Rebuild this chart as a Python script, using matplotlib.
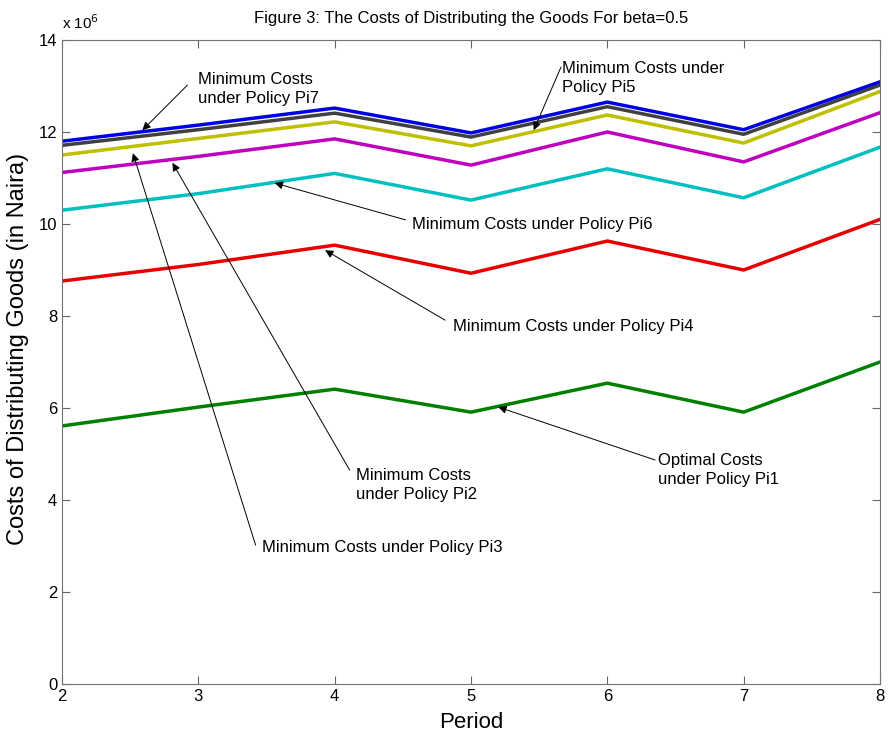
import matplotlib.pyplot as plt

plt.rcParams['font.family'] = ['Liberation Sans', 'DejaVu Sans']

periods = [2, 3, 4, 5, 6, 7, 8]

# costs in millions of Naira
pi1 = [5.61, 6.02, 6.41, 5.91, 6.54, 5.91, 7.00]
pi4 = [8.76, 9.12, 9.54, 8.93, 9.63, 9.00, 10.10]
pi6 = [10.30, 10.66, 11.10, 10.52, 11.20, 10.57, 11.67]
pi2 = [11.12, 11.47, 11.85, 11.28, 12.00, 11.35, 12.42]
pi3 = [11.50, 11.86, 12.22, 11.70, 12.37, 11.76, 12.88]
pi5 = [11.71, 12.05, 12.41, 11.89, 12.55, 11.95, 13.02]
pi7 = [11.80, 12.15, 12.52, 11.98, 12.65, 12.05, 13.09]

series = [
    (pi1, (0.0, 0.5, 0.0)),
    (pi4, (0.9, 0.0, 0.0)),
    (pi6, (0.0, 0.75, 0.75)),
    (pi2, (0.75, 0.0, 0.75)),
    (pi3, (0.75, 0.75, 0.0)),
    (pi5, (0.25, 0.25, 0.25)),
    (pi7, (0.0, 0.0, 0.9)),
]

# (text, text position, arrow start, arrow tip) in data units (y in millions)
notes = [
    ('Minimum Costs\nunder Policy Pi7', (3.0, 12.93), (2.92, 13.02), (2.59, 12.04)),
    ('Minimum Costs under\nPolicy Pi5', (5.67, 13.18), (5.66, 13.41), (5.46, 12.04)),
    ('Minimum Costs under Policy Pi6', (4.57, 10.0), (4.52, 10.09), (3.56, 10.89)),
    ('Minimum Costs under Policy Pi4', (4.87, 7.78), (4.81, 7.91), (3.93, 9.43)),
    ('Optimal Costs\nunder Policy Pi1', (6.37, 4.65), (6.35, 4.87), (5.2, 6.02)),
    ('Minimum Costs\nunder Policy Pi2', (4.16, 4.33), (4.11, 4.65), (2.81, 11.33)),
    ('Minimum Costs under Policy Pi3', (3.47, 2.96), (3.42, 3.02), (2.52, 11.54)),
]

fig = plt.figure(figsize=(8.88, 7.4), dpi=100)
ax = fig.add_axes([62 / 888, 1 - 684 / 740, 818 / 888, 644 / 740])

for vals, col in series:
    ax.plot(periods, [v * 1e6 for v in vals], color=col, lw=2.5)

for txt, tpos, start, tip in notes:
    ax.annotate('', xy=(tip[0], tip[1] * 1e6), xytext=(start[0], start[1] * 1e6),
                arrowprops=dict(arrowstyle='-|>', color='k', lw=0.7,
                                mutation_scale=12, shrinkA=0, shrinkB=0))
    ax.text(tpos[0], tpos[1] * 1e6, txt, fontsize=12, ha='left', va='center',
            linespacing=1.3)

ax.set_xlim(2, 8)
ax.set_ylim(0, 14e6)
ax.set_xticks(periods)
ax.set_yticks([i * 2e6 for i in range(8)])
ax.set_yticklabels([str(i * 2) for i in range(8)])
ax.tick_params(direction='in', top=True, right=True, labelsize=12, length=6,
               color='0.4')
for sp in ax.spines.values():
    sp.set_color('0.45')

ax.text(0.0, 1.012, r'x 10$^6$', transform=ax.transAxes, fontsize=11,
        ha='left', va='bottom')
ax.set_title('Figure 3: The Costs of Distributing the Goods For beta=0.5',
             fontsize=12, pad=12)
ax.set_xlabel('Period', fontsize=16, labelpad=6)
ax.set_ylabel('Costs of Distributing Goods (in Naira)', fontsize=17)
ax.yaxis.set_label_coords(-0.040, 0.52)

fig.savefig('out.png')
